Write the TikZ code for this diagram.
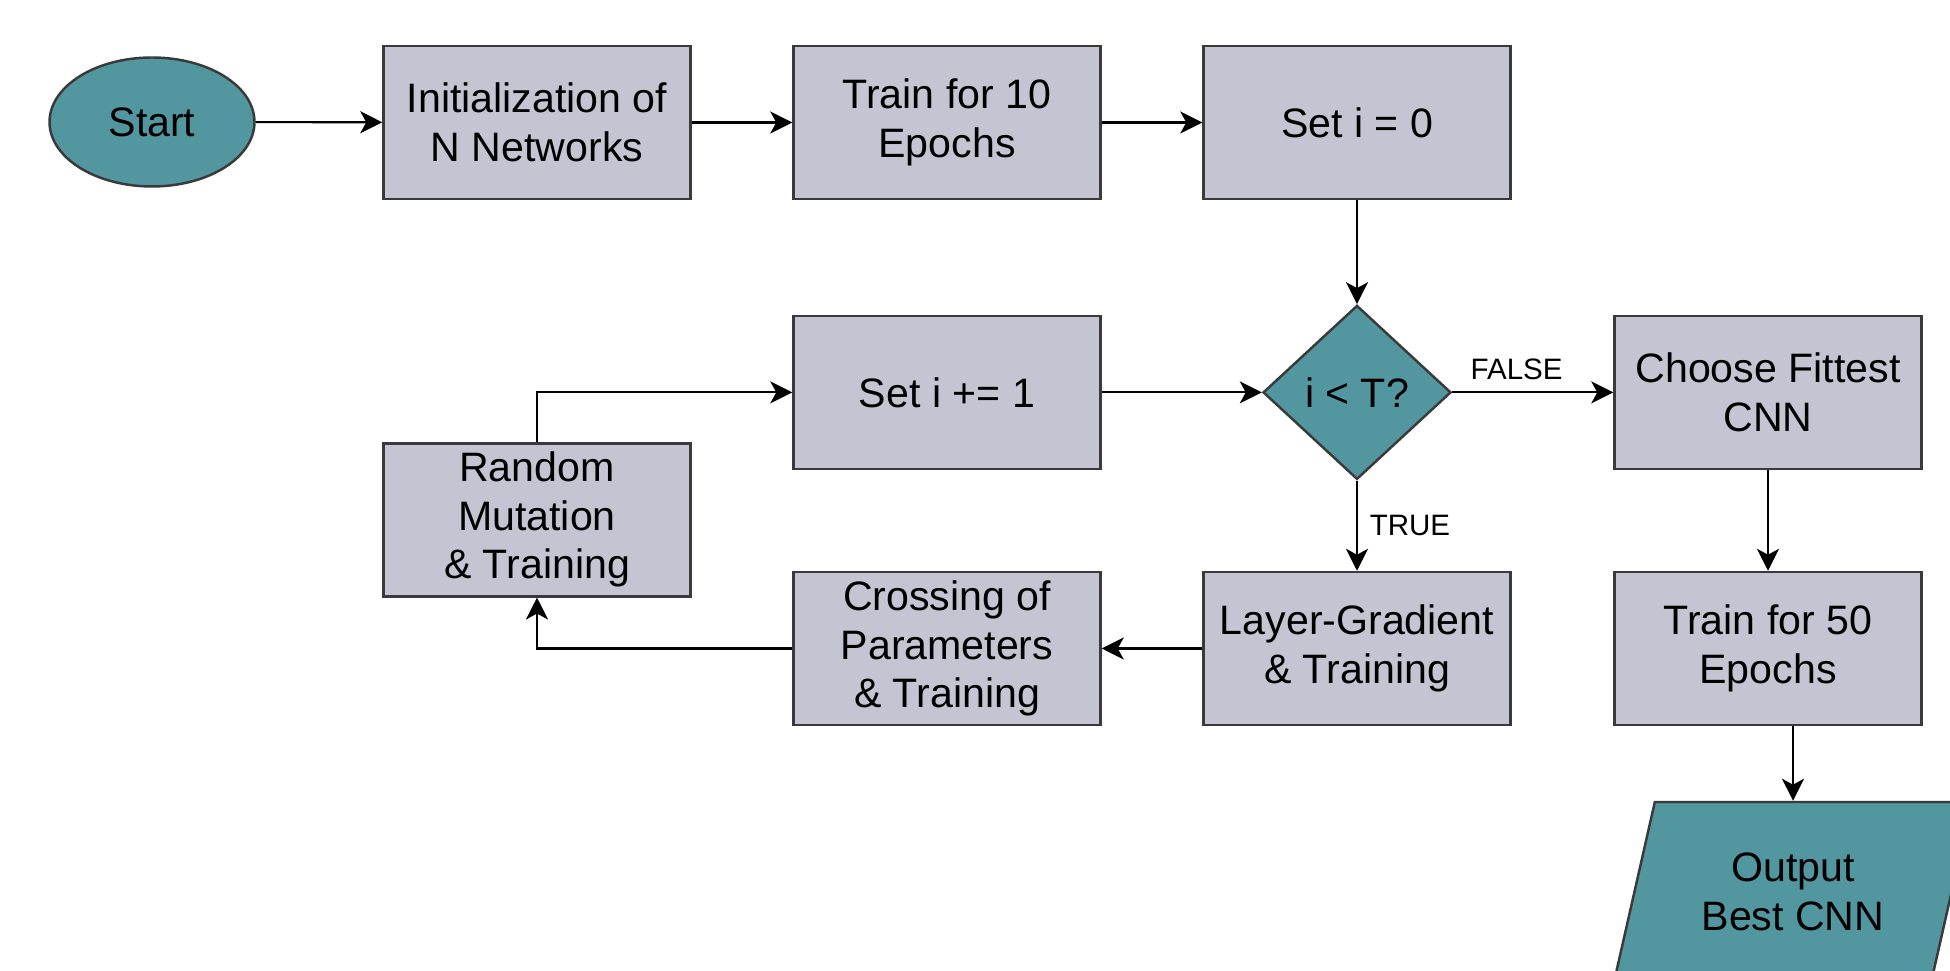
\documentclass[tikz,border=0pt]{standalone}
\usepackage{fontspec}
\setmainfont{Liberation Sans}
\definecolor{flteal}{RGB}{82,150,160}
\definecolor{flgray}{RGB}{196,196,210}
\definecolor{flline}{RGB}{58,58,58}
\usetikzlibrary{arrows.meta,positioning,shapes.geometric}

\begin{document}
\begin{tikzpicture}[
  procbox/.style={draw=flline,fill=flgray,line width=0.7pt,minimum width=3.07cm,minimum height=1.53cm,
    font=\fontsize{11.7}{13.8}\selectfont,align=center,inner sep=2pt},
  termnode/.style={ellipse,draw=flline,fill=flteal,line width=0.7pt,minimum width=2.05cm,minimum height=1.29cm,
    font=\fontsize{11.7}{13.8}\selectfont},
  decnode/.style={diamond,draw=flline,fill=flteal,line width=0.7pt,minimum width=1.88cm,minimum height=1.74cm,
    inner sep=0pt,font=\fontsize{11.7}{13.8}\selectfont},
  ionode/.style={trapezium,trapezium left angle=68,trapezium right angle=112,trapezium stretches body,
    draw=flline,fill=flteal,line width=0.7pt,minimum width=3.58cm,minimum height=1.8cm,
    font=\fontsize{11.7}{13.8}\selectfont,align=center},
  arr/.style={-{Stealth[length=2.2mm,width=2.2mm,inset=0.6mm]},line width=0.6pt},
  lbl/.style={font=\fontsize{8.4}{10}\selectfont}
]
  \clip (0,0) rectangle (19.5,-9.71);

  % Setup row
  \node[termnode] (start) at (1.52,-1.22) {Start};
  \node[procbox] (init) at (5.37,-1.225) {Initialization of\\N Networks};
  \node[procbox] (train10) at (9.47,-1.225) {Train for 10\\Epochs};
  \node[procbox] (seti0) at (13.57,-1.225) {Set i = 0};

  % Generation loop
  \node[decnode] (check) at (13.57,-3.924) {i < T?};
  \node[procbox] (incr) at (9.47,-3.924) {Set i += 1};
  \node[procbox] (mutate) at (5.37,-5.198) {Random\\Mutation\\\& Training};
  \node[procbox] (cross) at (9.47,-6.485) {Crossing of\\Parameters\\\& Training};
  \node[procbox] (layergrad) at (13.57,-6.485) {Layer-Gradient\\\& Training};

  % Final stage
  \node[procbox] (choose) at (17.68,-3.924) {Choose Fittest\\CNN};
  \node[procbox] (train50) at (17.68,-6.485) {Train for 50\\Epochs};
  \node[ionode] (best) at (17.93,-8.92) {Output\\Best CNN};

  % Arrows
  \draw[arr] (start) -- (init);
  \draw[arr] (init) -- (train10);
  \draw[arr] (train10) -- (seti0);
  \draw[arr] (seti0) -- (check);
  \draw[arr] (incr) -- (check);
  \draw[arr] (check) -- (choose) node[lbl,pos=0.4,above]{FALSE};
  \draw[arr] (check) -- (layergrad) node[lbl,midway,right]{TRUE};
  \draw[arr] (layergrad) -- (cross);
  \draw[arr] (cross.west) -| (mutate.south);
  \draw[arr] (mutate.north) |- (incr.west);
  \draw[arr] (choose) -- (train50);
  \draw[arr] (train50.south -| best.north) -- (best.north);
\end{tikzpicture}
\end{document}
